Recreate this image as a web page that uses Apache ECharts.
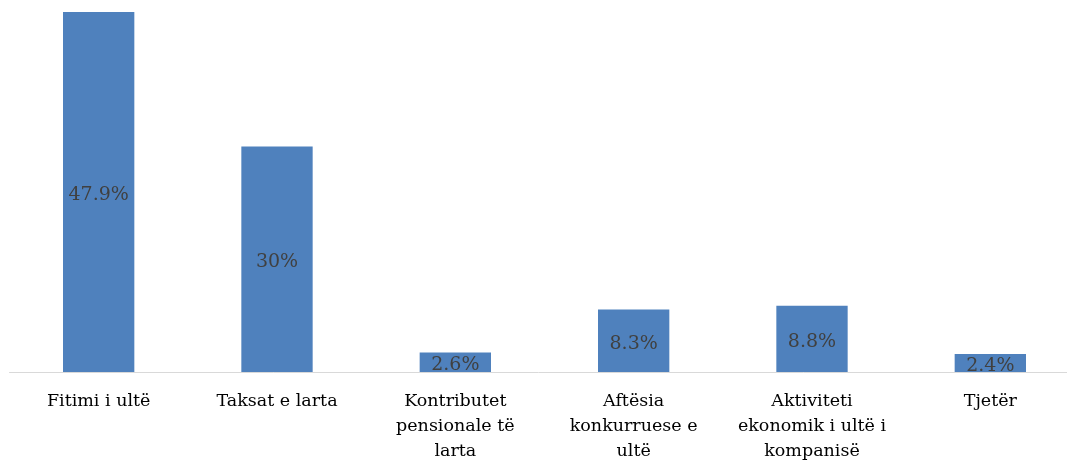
<!DOCTYPE html>
<html>
<head>
<meta charset="utf-8">
<script src="https://cdn.jsdelivr.net/npm/echarts@6/dist/echarts.min.js"></script>
<style>
  html, body { margin: 0; padding: 0; background: #fff; }
  #chart { width: 1067px; height: 463px; }
</style>
</head>
<body>
<div id="chart"></div>
<script>
// Reasons reported, share of respondents (%)
const categories = [
  'Fitimi i ultë',
  'Taksat e larta',
  'Kontributet\npensionale të\nlarta',
  'Aftësia\nkonkurruese e\nultë',
  'Aktiviteti\nekonomik i ultë i\nkompanisë',
  'Tjetër'
];
const shares = [47.9, 30, 2.6, 8.3, 8.8, 2.4];

const FONT = 'DejaVu Serif';
const chart = echarts.init(document.getElementById('chart'));
chart.setOption({
  animation: false,
  grid: {
    left: 9.5, width: 1070, top: 12, bottom: 91,
    containLabel: false,
    outerBoundsMode: 'none'
  },
  xAxis: {
    type: 'category',
    data: categories,
    axisLine: { lineStyle: { color: '#d9d9d9', width: 1 } },
    axisTick: { show: false },
    axisLabel: {
      interval: 0,
      margin: 17,
      color: '#000',
      fontFamily: FONT,
      fontSize: 17.5,
      lineHeight: 25
    }
  },
  yAxis: {
    type: 'value',
    min: 0,
    max: 'dataMax',
    show: false,
    splitLine: { show: false }
  },
  series: [{
    type: 'bar',
    data: shares,
    barWidth: '40%',
    itemStyle: { color: '#4f81bd' },
    label: {
      show: true,
      position: 'inside',
      offset: [0, 3],
      formatter: p => p.value + '%',
      color: '#404040',
      fontFamily: FONT,
      fontSize: 19
    }
  }],
  // white band under the baseline keeps bar labels inside the plot area
  graphic: [{
    type: 'rect',
    z: 100,
    shape: { x: 0, y: 373, width: 1067, height: 12 },
    style: { fill: '#fff' }
  }]
});
</script>
</body>
</html>
